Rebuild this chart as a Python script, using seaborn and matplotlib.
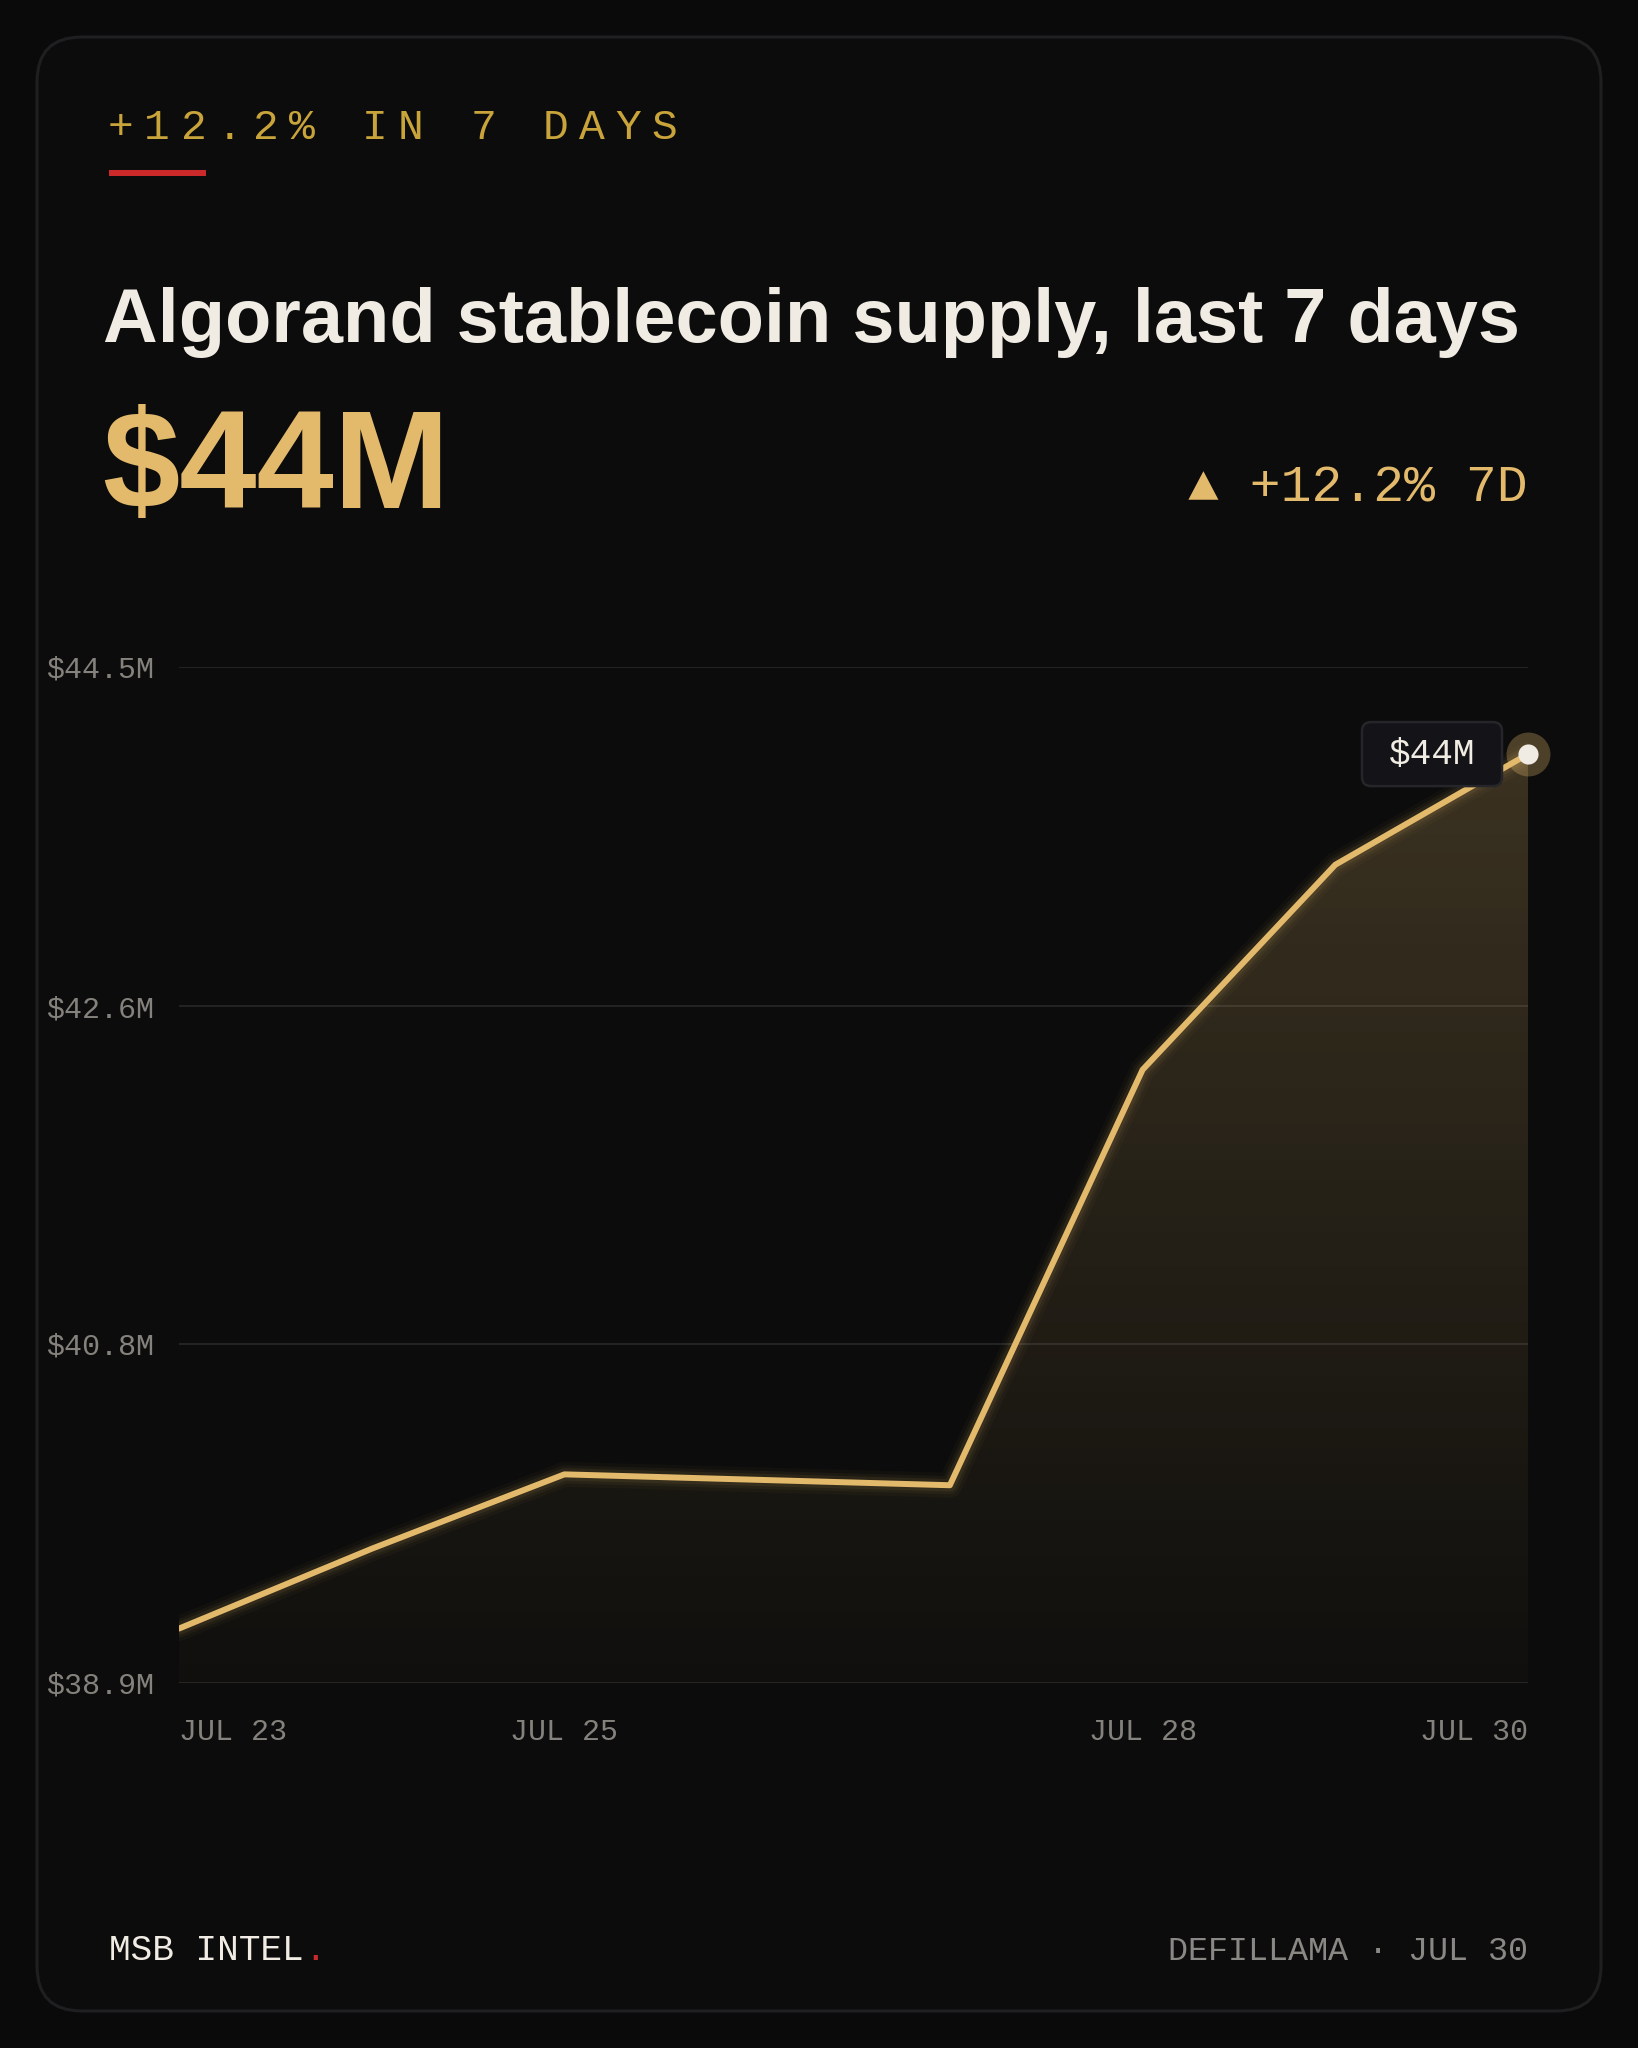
import matplotlib.pyplot as plt
import matplotlib.dates as mdates
from matplotlib.patches import FancyBboxPatch, Rectangle
from matplotlib.transforms import IdentityTransform
import seaborn as sns
import pandas as pd
import numpy as np

sns.set_theme(style='dark')
plt.rcParams['font.family'] = ['Liberation Sans', 'DejaVu Sans']

dates = ['2025-07-23', '2025-07-24', '2025-07-25', '2025-07-27',
         '2025-07-28', '2025-07-29', '2025-07-30']
supply = [39.20, 39.64, 40.05, 39.99, 42.28, 43.41, 44.02]   # $M
y_ticks = [38.9, 40.77, 42.63, 44.5]
x_ticks = ['2025-07-23', '2025-07-25', '2025-07-28', '2025-07-30']
kicker = '+12.2% IN 7 DAYS'
title = 'Algorand stablecoin supply, last 7 days'
headline = '$44M'
change = '\u25b2 +12.2% 7D'
tooltip = '$44M'
brand = 'MSB INTEL'
source = 'DEFILLAMA \u00b7 JUL 30'

df = pd.DataFrame({'date': pd.to_datetime(dates), 'supply': supply})

BG = '#0a0a0a'
CARD = '#0c0c0c'
GOLD = '#e3b96b'
KICK = '#c9a43a'
RED = '#cc2a2a'
CREAM = '#f0ece4'
GREY = '#85827d'
MONO = ['Liberation Mono', 'DejaVu Sans Mono']

W, H = 1638, 2048
fig = plt.figure(figsize=(W / 100, H / 100), dpi=100, facecolor=BG)

# overlay in pixel coordinates (origin top-left)
bg = fig.add_axes([0, 0, 1, 1], zorder=0)
bg.set_xlim(0, W)
bg.set_ylim(H, 0)
bg.axis('off')

bg.add_patch(FancyBboxPatch((37, 37), 1564, 1974,
                            boxstyle='round,pad=0,rounding_size=45',
                            fc=CARD, ec='#1f1f21', lw=2.2))

# kicker with letter spacing
for i, ch in enumerate(kicker):
    bg.text(108 + i * 36.25, 139, ch, color=KICK, fontsize=31,
            family=MONO, va='baseline', ha='left')
bg.add_patch(Rectangle((109, 170), 97, 6, fc=RED, ec='none'))

bg.text(103, 342, title, color=CREAM, fontsize=54.5, fontweight='bold',
        va='baseline', ha='left')
bg.text(102, 508, headline, color=GOLD, fontsize=100, fontweight='bold',
        va='baseline', ha='left')
bg.text(1528, 501, change, color=GOLD, fontsize=37, family=MONO,
        va='baseline', ha='right')

# footer
bg.text(109, 1960, brand, color=CREAM, fontsize=26, family=MONO,
        va='baseline', ha='left')
bg.text(109 + len(brand) * 21.67, 1960, '.', color=RED, fontsize=26,
        family=MONO, va='baseline', ha='left')
bg.text(1528, 1960, source, color='#8a8884', fontsize=24, family=MONO,
        va='baseline', ha='right')

# chart axes
x0, x1, ytop, ybot = 179, 1528, 667, 1683
ax = fig.add_axes([x0 / W, 1 - ybot / H, (x1 - x0) / W, (ybot - ytop) / H],
                  zorder=1)
ax.set_facecolor('none')
for s in ax.spines.values():
    s.set_visible(False)

xmin, xmax = df['date'].iloc[0], df['date'].iloc[-1]
ymin, ymax = y_ticks[0], y_ticks[-1]

# gradient fill under line
poly = ax.fill_between(df['date'], df['supply'], ymin, facecolor='none',
                       edgecolor='none')
n = 256
grad = np.zeros((n, 1, 4))
grad[:, 0, 0] = 227 / 255
grad[:, 0, 1] = 185 / 255
grad[:, 0, 2] = 107 / 255
grad[:, 0, 3] = np.linspace(0.24, 0.02, n)
im = ax.imshow(grad, aspect='auto', origin='upper', zorder=1,
               extent=[mdates.date2num(xmin), mdates.date2num(xmax), ymin, ymax])
im.set_clip_path(poly.get_paths()[0], transform=ax.transData)

# glow + line
for lw, a in [(18, 0.03), (13, 0.05), (9, 0.08)]:
    ax.plot(df['date'], df['supply'], color=GOLD, lw=lw, alpha=a,
            solid_capstyle='round', zorder=2)
sns.lineplot(data=df, x='date', y='supply', ax=ax, color=GOLD, lw=4.3,
             zorder=3)

ax.set_xlim(xmin, xmax)
ax.set_ylim(ymin, ymax)
ax.set_yticks(y_ticks)
ax.set_yticklabels([f'${v:.1f}M' for v in y_ticks], family=MONO,
                   fontsize=21.6, color=GREY)
ax.tick_params(axis='y', length=0, pad=18)
ax.set_xticks([])
ax.set_xlabel('')
ax.set_ylabel('')
ax.grid(axis='y', color='#232323', lw=1.5)
ax.grid(axis='x', visible=False)

# x labels: first left, last right, others centred
tr = ax.get_xaxis_transform()
xt = pd.to_datetime(x_ticks)
for i, d in enumerate(xt):
    ha = 'left' if i == 0 else ('right' if i == len(xt) - 1 else 'center')
    ax.text(d, -49 / (ybot - ytop), d.strftime('%b %d').upper(),
            transform=tr, ha=ha, va='center', family=MONO, fontsize=21.6,
            color=GREY)

# end point marker
last = df.iloc[-1]
ax.scatter([last['date']], [last['supply']], s=1000, color=GOLD, alpha=0.3,
           lw=0, zorder=5, clip_on=False)
ax.scatter([last['date']], [last['supply']], s=210, color=CREAM, lw=0,
           zorder=6, clip_on=False)

# tooltip box anchored to last point
px, py = ax.transData.transform((mdates.date2num(last['date']), last['supply']))
bw, bh = 140, 64
bx = px - 26 - bw
by = py - bh / 2
ax.add_patch(FancyBboxPatch((bx, by), bw, bh,
                            boxstyle='round,pad=0,rounding_size=9',
                            fc='#141418', ec='#26262a', lw=1.8,
                            transform=IdentityTransform(), zorder=7,
                            clip_on=False))
ax.text(bx + bw / 2, py, tooltip, transform=IdentityTransform(),
        ha='center', va='center', family=MONO, fontsize=26, color=CREAM,
        zorder=8)

fig.savefig('out.png', dpi=100, facecolor=BG)
